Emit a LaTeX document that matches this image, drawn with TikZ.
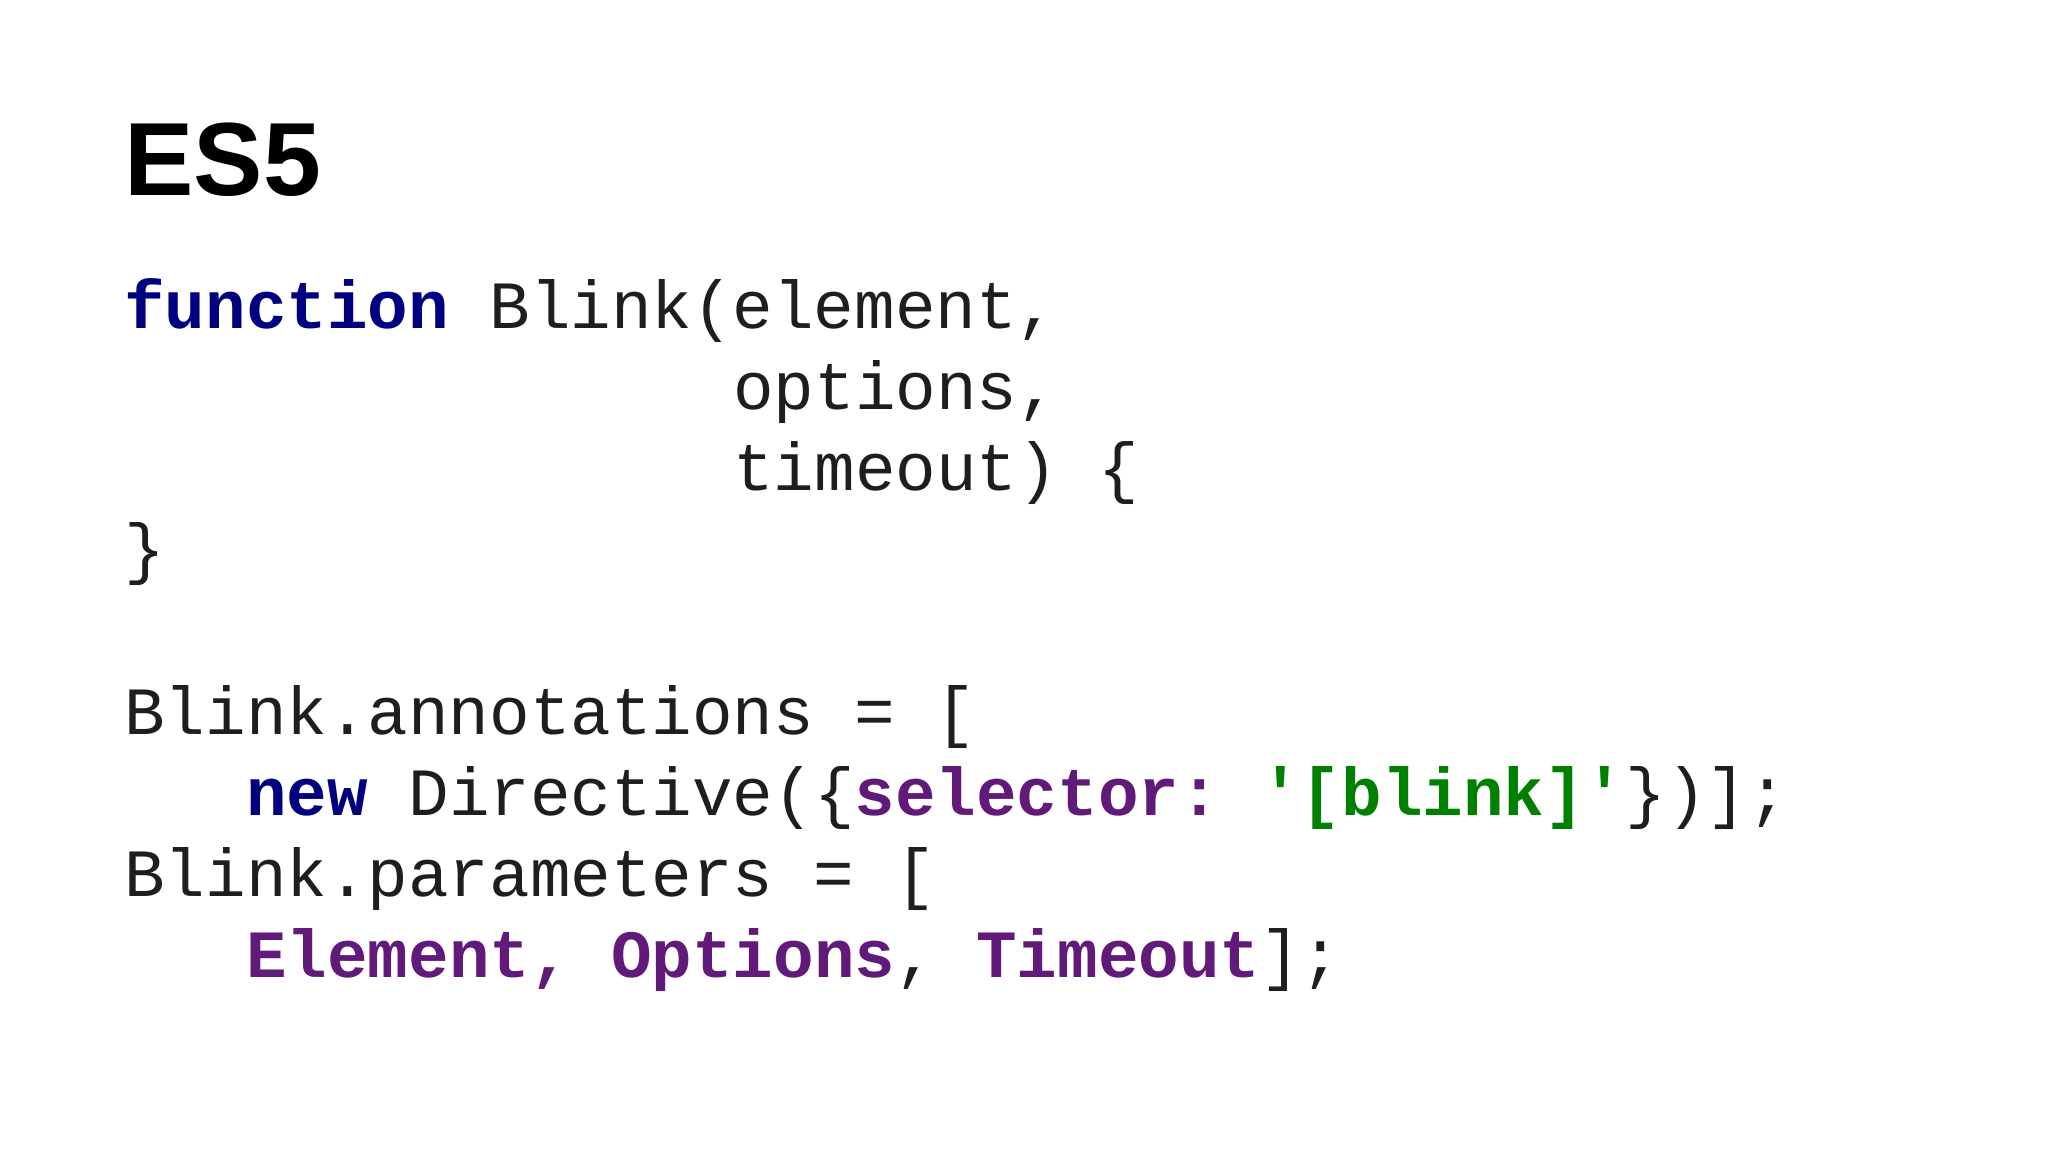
\documentclass[tikz,border=0pt]{standalone}
\usepackage{fontspec}
\setmainfont{Liberation Sans}
\setsansfont{Liberation Sans}
\setmonofont{Liberation Mono}
\definecolor{kw}{RGB}{0,0,128}
\definecolor{pu}{RGB}{98,26,122}
\definecolor{gr}{RGB}{0,128,0}
\definecolor{tx}{RGB}{30,30,30}
\tikzset{code/.style={anchor=base west,inner sep=0pt,font=\fontsize{33.8}{40}\ttfamily,text=tx},
title/.style={anchor=base west,inner sep=0pt,font=\fontsize{52}{58}\bfseries\sffamily}}
\newcommand{\kwd}[1]{\textcolor{kw}{\bfseries #1}}
\newcommand{\pur}[1]{\textcolor{pu}{\bfseries #1}}
\newcommand{\grn}[1]{\textcolor{gr}{\bfseries #1}}
\begin{document}
\begin{tikzpicture}[x=1pt,y=1pt]
\useasboundingbox[fill=white] (0,0) rectangle (1024,576);
\node[title] (t) at (62,478) {ES5};
\node[code] (l0) at (62,411.5) {\kwd{function}~Blink(element,};
\node[code] (l1) at (366.5,371) {options,};
\node[code] (l2) at (366.5,330.5) {timeout)~\{};
\node[code] (l3) at (62,290) {\}};
\node[code] (l5) at (62,209) {Blink.annotations~=~[};
\node[code] (l6) at (122.9,168.5) {\kwd{new}~Directive(\{\pur{selector:}~\grn{'[blink]'}\})];};
\node[code] (l7) at (62,128) {Blink.parameters~=~[};
\node[code] (l8) at (122.9,87.5) {\pur{Element,}~\pur{Options},~\pur{Timeout}];};
\end{tikzpicture}
\end{document}
